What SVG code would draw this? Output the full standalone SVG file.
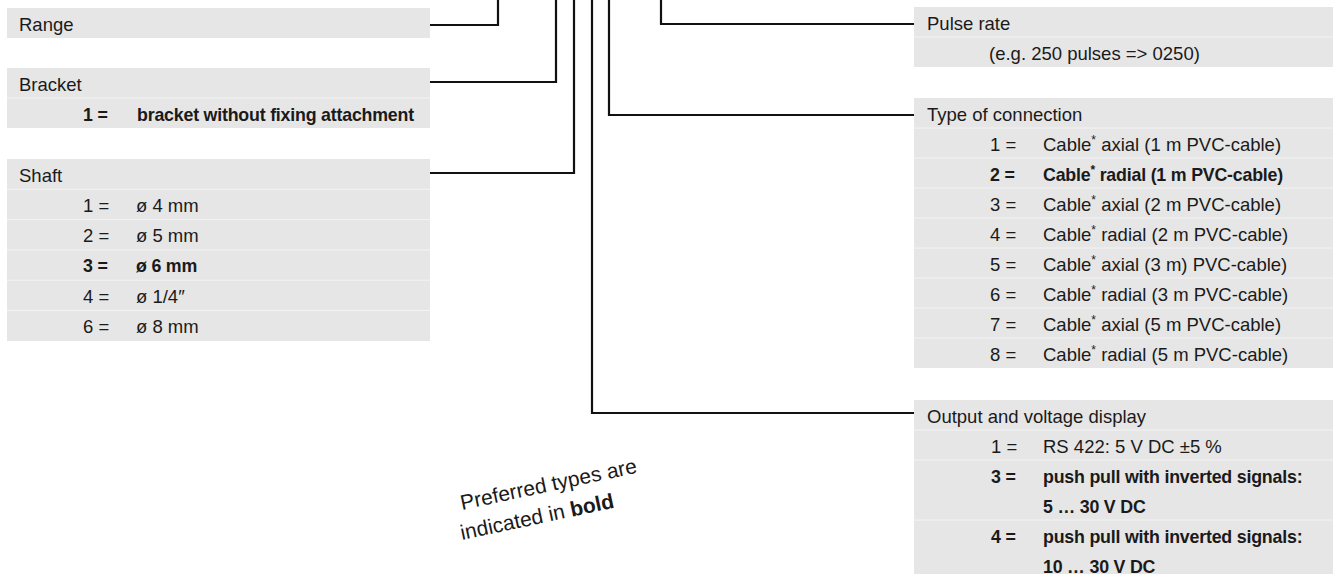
<svg xmlns="http://www.w3.org/2000/svg" width="1333" height="574" viewBox="0 0 1333 574">
  <style>
    .panel { fill: #e6e6e6; }
    .sep { stroke: #f3f3f3; stroke-width: 1; }
    text { font-family: "Liberation Sans", Arial, sans-serif; font-size: 18.5px; fill: #1a1a1a; }
    .b { font-weight: bold; font-size: 17.8px; letter-spacing: -0.2px; }
    .sup { font-size: 12px; }
    .conn { fill: none; stroke: #111; stroke-width: 2.2; }
    .note { font-size: 21px; }
    .note .b { font-size: 21px; letter-spacing: 0; }
  </style>

  <rect width="1333" height="574" fill="#ffffff"/>

  <!-- Connectors from the order code down to each option block -->
  <g id="connectors" class="conn">
    <path d="M430,25 H498 V0"/>
    <path d="M430,82 H556 V0"/>
    <path d="M430,173 H574 V0"/>
    <path d="M914,413 H592 V0"/>
    <path d="M914,115 H609 V0"/>
    <path d="M914,24 H661 V0"/>
  </g>

  <g id="range">
    <rect class="panel" x="7" y="8" width="423" height="30"/>
    <text x="19" y="30.5">Range</text>
  </g>

  <g id="bracket">
    <rect class="panel" x="7" y="68" width="423" height="60"/>
    <line class="sep" x1="7" y1="98" x2="430" y2="98"/>
    <text x="19" y="90.5">Bracket</text>
    <text class="b" x="83" y="120.5">1 =</text>
    <text class="b" x="137" y="120.5">bracket without fixing attachment</text>
  </g>

  <g id="shaft">
    <rect class="panel" x="7" y="159" width="423" height="182"/>
    <line class="sep" x1="7" y1="189.3" x2="430" y2="189.3"/>
    <line class="sep" x1="7" y1="219.6" x2="430" y2="219.6"/>
    <line class="sep" x1="7" y1="249.9" x2="430" y2="249.9"/>
    <line class="sep" x1="7" y1="280.2" x2="430" y2="280.2"/>
    <line class="sep" x1="7" y1="310.5" x2="430" y2="310.5"/>
    <text x="19" y="181.7">Shaft</text>
    <text x="83" y="211.8">1 =</text><text x="136" y="211.8">ø 4 mm</text>
    <text x="83" y="242.1">2 =</text><text x="136" y="242.1">ø 5 mm</text>
    <text class="b" x="83" y="272.4">3 =</text><text class="b" x="136" y="272.4">ø 6 mm</text>
    <text x="83" y="302.7">4 =</text><text x="136" y="302.7">ø 1/4″</text>
    <text x="83" y="333">6 =</text><text x="136" y="333">ø 8 mm</text>
  </g>

  <g id="pulse-rate">
    <rect class="panel" x="914" y="7" width="419" height="60"/>
    <line class="sep" x1="914" y1="37" x2="1333" y2="37"/>
    <text x="927" y="29.5">Pulse rate</text>
    <text x="989" y="59.5">(e.g. 250 pulses =&gt; 0250)</text>
  </g>

  <g id="connection">
    <rect class="panel" x="914" y="98" width="419" height="270"/>
    <line class="sep" x1="914" y1="128" x2="1333" y2="128"/>
    <line class="sep" x1="914" y1="158" x2="1333" y2="158"/>
    <line class="sep" x1="914" y1="188" x2="1333" y2="188"/>
    <line class="sep" x1="914" y1="218" x2="1333" y2="218"/>
    <line class="sep" x1="914" y1="248" x2="1333" y2="248"/>
    <line class="sep" x1="914" y1="278" x2="1333" y2="278"/>
    <line class="sep" x1="914" y1="308" x2="1333" y2="308"/>
    <line class="sep" x1="914" y1="338" x2="1333" y2="338"/>
    <text x="927" y="120.5">Type of connection</text>
    <text x="990" y="150.5">1 =</text>
    <text x="1043" y="150.5">Cable<tspan class="sup" dy="-7">*</tspan><tspan dy="7"> axial (1 m PVC-cable)</tspan></text>
    <text class="b" x="990" y="180.5">2 =</text>
    <text class="b" x="1043" y="180.5">Cable<tspan class="sup" dy="-7">*</tspan><tspan dy="7"> radial (1 m PVC-cable)</tspan></text>
    <text x="990" y="210.5">3 =</text>
    <text x="1043" y="210.5">Cable<tspan class="sup" dy="-7">*</tspan><tspan dy="7"> axial (2 m PVC-cable)</tspan></text>
    <text x="990" y="240.5">4 =</text>
    <text x="1043" y="240.5">Cable<tspan class="sup" dy="-7">*</tspan><tspan dy="7"> radial (2 m PVC-cable)</tspan></text>
    <text x="990" y="270.5">5 =</text>
    <text x="1043" y="270.5">Cable<tspan class="sup" dy="-7">*</tspan><tspan dy="7"> axial (3 m) PVC-cable)</tspan></text>
    <text x="990" y="300.5">6 =</text>
    <text x="1043" y="300.5">Cable<tspan class="sup" dy="-7">*</tspan><tspan dy="7"> radial (3 m PVC-cable)</tspan></text>
    <text x="990" y="330.5">7 =</text>
    <text x="1043" y="330.5">Cable<tspan class="sup" dy="-7">*</tspan><tspan dy="7"> axial (5 m PVC-cable)</tspan></text>
    <text x="990" y="360.5">8 =</text>
    <text x="1043" y="360.5">Cable<tspan class="sup" dy="-7">*</tspan><tspan dy="7"> radial (5 m PVC-cable)</tspan></text>
  </g>

  <g id="output">
    <rect class="panel" x="914" y="400" width="419" height="180"/>
    <line class="sep" x1="914" y1="430" x2="1333" y2="430"/>
    <line class="sep" x1="914" y1="460" x2="1333" y2="460"/>
    <line class="sep" x1="914" y1="520" x2="1333" y2="520"/>
    <text x="927" y="422.5">Output and voltage display</text>
    <text x="991" y="452.5">1 =</text>
    <text x="1043" y="452.5">RS 422: 5 V DC ±5 %</text>
    <text class="b" x="991" y="482.5">3 =</text>
    <text class="b" x="1043" y="482.5">push pull with inverted signals:</text>
    <text class="b" x="1043" y="512.5">5 … 30 V DC</text>
    <text class="b" x="991" y="542.5">4 =</text>
    <text class="b" x="1043" y="542.5">push pull with inverted signals:</text>
    <text class="b" x="1043" y="572.5">10 … 30 V DC</text>
  </g>

  <g id="legend">
    <text class="note" transform="translate(462,510) rotate(-12)">Preferred types are</text>
    <text class="note" transform="translate(462,540) rotate(-12)">indicated in <tspan class="b">bold</tspan></text>
  </g>
</svg>
